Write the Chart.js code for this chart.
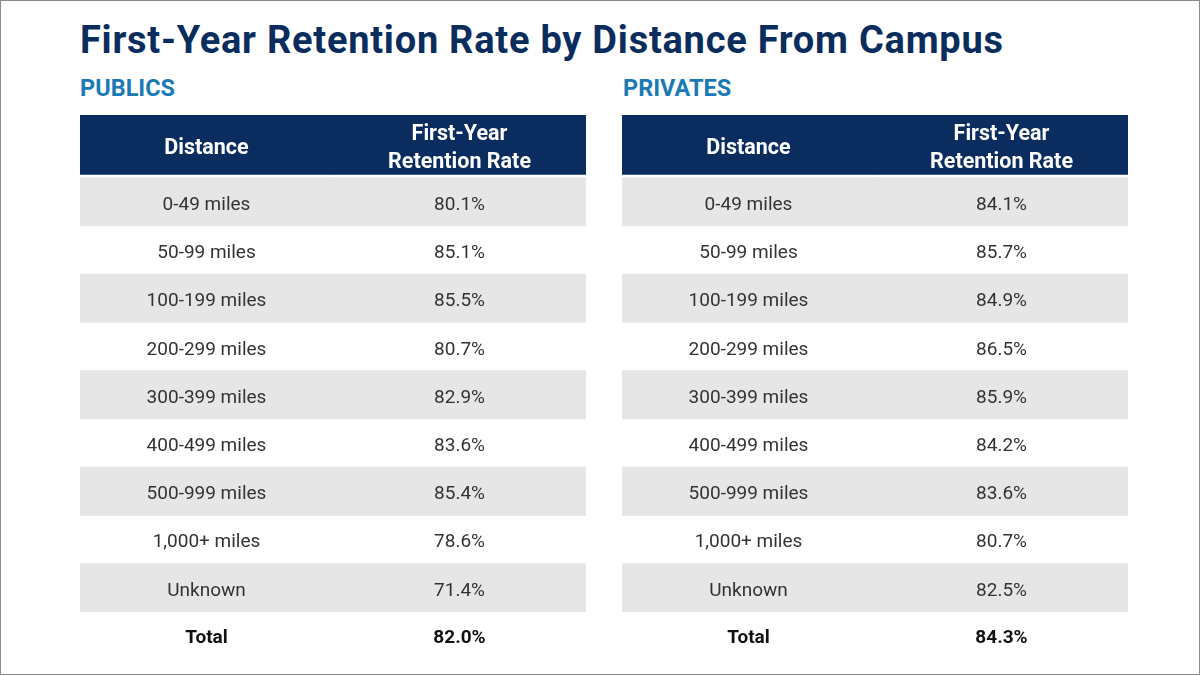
<!DOCTYPE html>
<html>
<head>
<meta charset="utf-8">
<script src="https://cdn.jsdelivr.net/npm/chart.js@4.4.1/dist/chart.umd.min.js"></script>
<style>
  body { margin: 0; width: 1200px; height: 675px; background: #fff; overflow: hidden; font-family: Roboto, "Noto Sans", sans-serif; }
  #frame { position: absolute; left: 0; top: 0; width: 1198px; height: 673px; border: 1px solid #8a8a8a; }
  h1 { position: absolute; left: 80px; top: 21px; margin: 0; font: 700 38px/38px Roboto, sans-serif; letter-spacing: 0.75px; color: #0b2d5e; white-space: nowrap; }
  .sub { position: absolute; top: 76px; font: 700 23.5px/24px Roboto, sans-serif; color: #1b7ab6; }
  .wrap { position: absolute; top: 115px; width: 506px; height: 545px; }
</style>
</head>
<body>
<div id="frame"></div>
<h1>First-Year Retention Rate by Distance From Campus</h1>
<div class="sub" style="left:80px">PUBLICS</div>
<div class="sub" style="left:623px">PRIVATES</div>
<div class="wrap" style="left:80px"><canvas id="publicTable"></canvas></div>
<div class="wrap" style="left:622px"><canvas id="privateTable"></canvas></div>

<script>
// datos de la tabla
const distances = ['0-49 miles', '50-99 miles', '100-199 miles', '200-299 miles', '300-399 miles',
                   '400-499 miles', '500-999 miles', '1,000+ miles', 'Unknown'];
const totalLabel = 'Total';
const columnHeaders = [['Distance'], ['First-Year', 'Retention Rate']];
const publicRates = [80.1, 85.1, 85.5, 80.7, 82.9, 83.6, 85.4, 78.6, 71.4];
const publicTotal = 82.0;
const privateRates = [84.1, 85.7, 84.9, 86.5, 85.9, 84.2, 83.6, 80.7, 82.5];
const privateTotal = 84.3;

const NAVY = '#0a2c5e';
const STRIPE = '#e6e6e6';
const HEADER_TOP = -1.3;   // la cabecera es un poco más alta que una fila
const HEADER_BOTTOM = -0.07;

// escribe los textos de cada celda usando las escalas del gráfico
const cellText = {
  id: 'cellText',
  afterDatasetsDraw(chart, args, opts) {
    const ctx = chart.ctx;
    const x = chart.scales.x, y = chart.scales.y;
    ctx.save();
    ctx.textAlign = 'center';
    ctx.textBaseline = 'alphabetic';

    // cabecera
    ctx.fillStyle = '#ffffff';
    ctx.font = '700 21.5px Roboto';
    const hMid = y.getPixelForValue((HEADER_TOP + HEADER_BOTTOM) / 2);
    columnHeaders.forEach((lines, c) => {
      lines.forEach((line, k) => {
        ctx.fillText(line, x.getPixelForValue(c), hMid + 9.5 + (k - (lines.length - 1) / 2) * 28.5);
      });
    });

    // filas
    ctx.fillStyle = '#333333';
    ctx.font = '400 19px Roboto';
    distances.forEach((d, i) => {
      const yy = y.getPixelForValue(i + 0.5) + 8;
      ctx.fillText(d, x.getPixelForValue(0), yy);
      ctx.fillText(opts.rates[i].toFixed(1) + '%', x.getPixelForValue(1), yy);
    });

    // total
    ctx.fillStyle = '#111111';
    ctx.font = '700 19px Roboto';
    const yt = y.getPixelForValue(distances.length + 0.5) + 7.5;
    ctx.fillText(totalLabel, x.getPixelForValue(0), yt);
    ctx.fillText(opts.total.toFixed(1) + '%', x.getPixelForValue(1), yt);
    ctx.restore();
  }
};

function buildTable(canvasId, rates, total) {
  const bands = [{ data: [[HEADER_TOP, HEADER_BOTTOM], [HEADER_TOP, HEADER_BOTTOM]], backgroundColor: NAVY }];
  distances.forEach((d, i) => {
    if (i % 2 === 0) {
      bands.push({ data: [[i, i + 1], [i, i + 1]], backgroundColor: STRIPE });
    }
  });
  bands.forEach(b => {
    b.grouped = false;
    b.barPercentage = 1;
    b.categoryPercentage = 1;
    b.borderWidth = 0;
    b.borderSkipped = false;
  });

  return new Chart(document.getElementById(canvasId), {
    type: 'bar',
    data: { labels: ['Distance', 'First-Year Retention Rate'], datasets: bands },
    options: {
      responsive: true,
      maintainAspectRatio: false,
      animation: false,
      events: [],
      layout: { padding: 0 },
      scales: {
        x: { display: false },
        y: { display: false, reverse: true, min: HEADER_TOP, max: distances.length + 1 }
      },
      plugins: {
        legend: { display: false },
        tooltip: { enabled: false },
        cellText: { rates: rates, total: total }
      }
    },
    plugins: [cellText]
  });
}

buildTable('publicTable', publicRates, publicTotal);
buildTable('privateTable', privateRates, privateTotal);
</script>
</body>
</html>
